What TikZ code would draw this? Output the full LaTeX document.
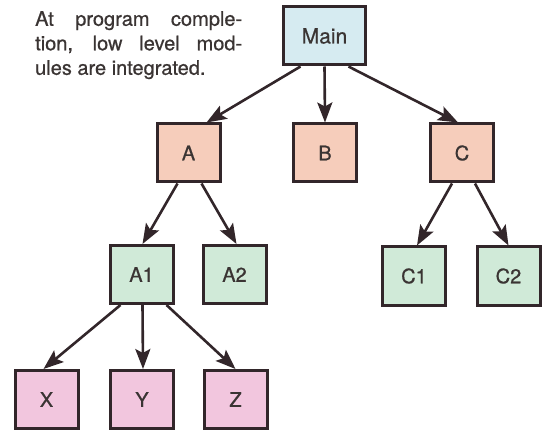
\documentclass[tikz,border=0pt]{standalone}
\usepackage{fontspec}
\setmainfont{TeX Gyre Heros}[FakeBold=0.7]
\usetikzlibrary{arrows.meta,calc}
\definecolor{edge}{HTML}{32262A}
\definecolor{cblue}{HTML}{D6EBF1}
\definecolor{cpeach}{HTML}{F6CDBB}
\definecolor{cgreen}{HTML}{D0EAD8}
\definecolor{cpink}{HTML}{F2C6DE}
\definecolor{txt}{HTML}{3A3433}
\tikzset{
  modbox/.style={draw=edge, line width=3pt, minimum width=63pt, minimum height=58pt,
    inner sep=0pt, text=txt, font=\fontsize{20}{20}\selectfont},
  arr/.style={draw=edge, line width=2.6pt, -{Stealth[length=20pt,width=15pt,inset=4pt]}}
}
\begin{document}
\begin{tikzpicture}[x=1pt,y=-1pt]
\useasboundingbox (0,0) rectangle (543,430);
\node[text width=207pt, align=justify, anchor=north west, inner sep=0pt, text=txt,
  font=\fontsize{20}{24.5}\selectfont] (note) at (35,11)
  {At program comple-\linebreak tion, low level mod-\linebreak ules are integrated.};
\node[modbox, fill=cblue, minimum width=82pt, font=\fontsize{21}{21}\selectfont] (Main) at (324.5,36) {Main};
\node[modbox, fill=cpeach] (A) at (188.5,153) {A};
\node[modbox, fill=cpeach] (B) at (325,153) {B};
\node[modbox, fill=cpeach] (C) at (462,153) {C};
\node[modbox, fill=cgreen] (A1) at (141.5,274.5) {A1};
\node[modbox, fill=cgreen] (A2) at (234.5,274.5) {A2};
\node[modbox, fill=cgreen] (C1) at (414,276) {C1};
\node[modbox, fill=cgreen] (C2) at (508.5,276) {C2};
\node[modbox, fill=cpink] (X) at (46.5,399.5) {X};
\node[modbox, fill=cpink] (Y) at (142,399.5) {Y};
\node[modbox, fill=cpink] (Z) at (235.5,399.5) {Z};
\draw[arr] ($(Main.south)+(-24,0)$) -- ($(A.north)+(18,0)$);
\draw[arr] (Main.south) -- (B.north);
\draw[arr] ($(Main.south)+(24,0)$) -- ($(C.north)+(-4,0)$);
\draw[arr] ($(A.south)+(-11,0)$) -- ($(A1.north)+(1,0)$);
\draw[arr] ($(A.south)+(13,0)$) -- ($(A2.north)+(2,0)$);
\draw[arr] ($(C.south)+(-10,0)$) -- ($(C1.north)+(3,0)$);
\draw[arr] ($(C.south)+(13,0)$) -- ($(C2.north)+(0,0)$);
\draw[arr] ($(A1.south)+(-21,0)$) -- ($(X.north)+(-3,0)$);
\draw[arr] ($(A1.south)+(1,0)$) -- ($(Y.north)+(1,0)$);
\draw[arr] ($(A1.south)+(25,0)$) -- ($(Z.north)+(0,0)$);
\end{tikzpicture}
\end{document}
